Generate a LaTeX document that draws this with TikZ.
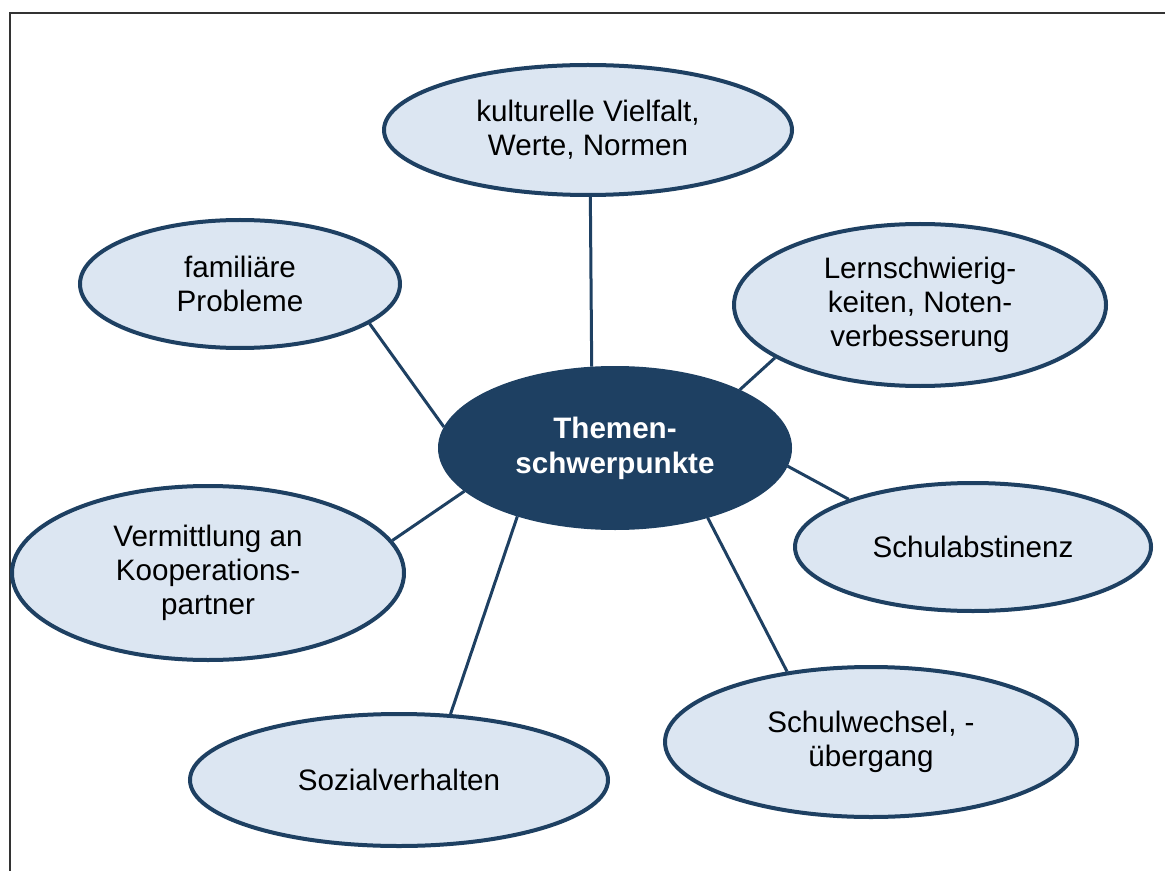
\documentclass[tikz,border=0pt]{standalone}
\usepackage{fontspec}
\setmainfont{Liberation Sans}
\usetikzlibrary{shapes.geometric}
\definecolor{navy}{RGB}{30,64,98}
\definecolor{soft}{RGB}{220,230,242}

\begin{document}
\begin{tikzpicture}[x=0.5pt,y=-0.5pt,
  every node/.style={font=\fontsize{14.8}{17}\selectfont,align=center},
  bubble/.style={ellipse,draw=navy,fill=soft,line width=2pt,inner sep=0pt},
  link/.style={navy,line width=1.5pt}]
\useasboundingbox (0,0) rectangle (1165,871);
\draw[black!80,line width=1pt] (10,871) -- (10,13) -- (1165,13);

\node[bubble,fill=navy,text=white,font=\fontsize{14.8}{17.5}\selectfont\bfseries,
  minimum width=175pt,minimum height=80pt] (hub) at (615,448) {Themen-\\schwerpunkte};
\node[bubble,minimum width=204pt,minimum height=65pt] (kultur) at (588,130)
  {kulturelle Vielfalt,\\Werte, Normen};
\node[bubble,minimum width=160pt,minimum height=64pt] (fam) at (240,284)
  {familiäre\\Probleme};
\node[bubble,minimum width=186pt,minimum height=81pt] (lern) at (920,305)
  {Lernschwierig-\\keiten, Noten-\\verbesserung};
\node[bubble,minimum width=178pt,minimum height=64pt] (abst) at (973,547)
  {Schulabstinenz};
\node[bubble,minimum width=196pt,minimum height=87pt] (verm) at (208,573)
  {Vermittlung an\\Kooperations-\\partner};
\node[bubble,minimum width=206pt,minimum height=75pt] (wechsel) at (871,742)
  {Schulwechsel, -\\übergang};
\node[bubble,minimum width=209pt,minimum height=66pt] (sozial) at (399,780)
  {Sozialverhalten};

% Verbindungen vom Zentrum
\draw[link] (hub.106) -- (kultur.272);
\draw[link] (hub.173) -- (fam.343);
\draw[link] (hub.25) -- (lern.200);
\draw[link] (hub.354) -- (abst.159);
\draw[link] (hub.323) -- (wechsel.140);
\draw[link] (hub.215) -- (sozial.52);
\draw[link] (hub.196) -- (verm.10);
\end{tikzpicture}
\end{document}
